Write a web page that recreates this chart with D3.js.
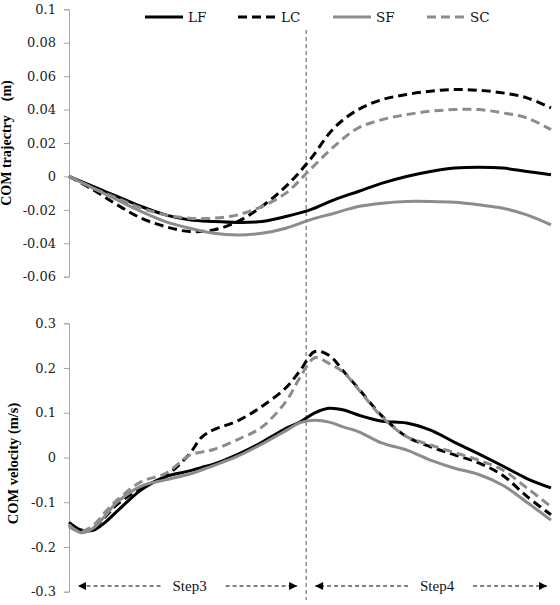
<!DOCTYPE html>
<html>
<head>
<meta charset="utf-8">
<script src="https://cdn.jsdelivr.net/npm/d3@7"></script>
<style>
  html, body { margin: 0; padding: 0; background: #fff; }
  svg { display: block; }
</style>
</head>
<body>
<svg id="chart"></svg>
<script>
// percent of the stride (step3 + step4)
var timeTop = [0, 5, 10, 15, 20, 25, 30, 35, 40, 45, 50, 55, 60, 65, 70, 75, 80, 85, 90, 95, 100];
var trajLF = [0, -0.006, -0.012, -0.018, -0.023, -0.026, -0.027, -0.0275, -0.027, -0.024, -0.020, -0.014, -0.009, -0.004, 0.000, 0.003, 0.005, 0.0055, 0.005, 0.003, 0.001];
var trajLC = [0, -0.008, -0.017, -0.025, -0.030, -0.033, -0.032, -0.027, -0.018, -0.006, 0.010, 0.029, 0.040, 0.046, 0.049, 0.051, 0.052, 0.0515, 0.050, 0.047, 0.041];
var trajSF = [0, -0.007, -0.014, -0.021, -0.027, -0.031, -0.034, -0.035, -0.034, -0.031, -0.026, -0.022, -0.018, -0.016, -0.015, -0.015, -0.0155, -0.017, -0.019, -0.023, -0.029];
var trajSC = [0, -0.007, -0.013, -0.019, -0.023, -0.025, -0.025, -0.023, -0.018, -0.010, 0.004, 0.018, 0.029, 0.034, 0.037, 0.039, 0.040, 0.040, 0.038, 0.035, 0.028];

var timeBottom = [0, 2.5, 5, 7.5, 10, 15, 20, 25, 27.5, 30, 35, 40, 45, 48, 51, 54, 57, 60, 65, 70, 75, 80, 85, 90, 95, 100];
var velLF = [-0.145, -0.162, -0.163, -0.145, -0.120, -0.072, -0.043, -0.030, -0.022, -0.015, 0.007, 0.034, 0.065, 0.080, 0.100, 0.110, 0.106, 0.095, 0.081, 0.077, 0.061, 0.034, 0.008, -0.019, -0.047, -0.068];
var velLC = [-0.150, -0.166, -0.158, -0.133, -0.105, -0.068, -0.042, 0.008, 0.045, 0.062, 0.082, 0.114, 0.156, 0.195, 0.237, 0.228, 0.192, 0.155, 0.092, 0.047, 0.024, 0.006, -0.012, -0.040, -0.087, -0.128];
var velSF = [-0.150, -0.168, -0.158, -0.130, -0.100, -0.064, -0.050, -0.037, -0.028, -0.018, 0.003, 0.030, 0.060, 0.078, 0.083, 0.079, 0.068, 0.058, 0.032, 0.017, -0.006, -0.024, -0.038, -0.062, -0.100, -0.140];
var velSC = [-0.155, -0.165, -0.152, -0.122, -0.095, -0.054, -0.036, 0.005, 0.012, 0.018, 0.040, 0.068, 0.125, 0.180, 0.223, 0.210, 0.190, 0.153, 0.090, 0.047, 0.028, 0.011, -0.006, -0.028, -0.068, -0.110];

var seriesNames = ["LF", "LC", "SF", "SC"];
var trajTicks = [0.1, 0.08, 0.06, 0.04, 0.02, 0, -0.02, -0.04, -0.06];
var velTicks = [0.3, 0.2, 0.1, 0, -0.1, -0.2, -0.3];
var stepBoundary = 49.2;
var steps = ["Step3", "Step4"];

var W = 560, H = 605;
var styles = {
  LF: { color: "#000", dash: null },
  LC: { color: "#000", dash: "9,5" },
  SF: { color: "#8c8c8c", dash: null },
  SC: { color: "#8c8c8c", dash: "9,5" }
};

var svg = d3.select("#chart").attr("width", W).attr("height", H);

var x = d3.scaleLinear().domain([0, 100]).range([69, 551]);
var yTop = d3.scaleLinear().domain([-0.06, 0.1]).range([276.7, 9.3]);
var yBot = d3.scaleLinear().domain([-0.3, 0.3]).range([591.7, 323.3]);

function drawAxis(scale, ticks, fmt) {
  var g = svg.append("g")
    .attr("transform", "translate(69,0)")
    .call(d3.axisLeft(scale).tickValues(ticks).tickSize(5).tickPadding(8).tickFormat(fmt))
    .attr("font-family", "'DejaVu Serif', serif")
    .attr("font-size", 13);
  g.select(".domain").attr("stroke", "#a6a6a6");
  g.selectAll(".tick line").attr("stroke", "#a6a6a6");
  g.selectAll(".tick text").attr("fill", "#222");
  return g;
}

function fmtTick(d) {
  return d === 0 ? "0" : String(d);
}

drawAxis(yTop, trajTicks, fmtTick);
drawAxis(yBot, velTicks, fmtTick);

// axis titles
svg.append("text")
  .attr("transform", "translate(11," + ((9.3 + 276.7) / 2) + ") rotate(-90)")
  .attr("text-anchor", "middle")
  .style("font-family", "'Liberation Serif', serif")
  .style("font-weight", "bold")
  .style("font-size", "14px")
  .text("COM trajectry\u3000(m)");

svg.append("text")
  .attr("transform", "translate(18," + ((323.3 + 591.7) / 2 + 6) + ") rotate(-90)")
  .attr("text-anchor", "middle")
  .style("font-family", "'Liberation Serif', serif")
  .style("font-weight", "bold")
  .style("font-size", "14.5px")
  .text("COM velocity (m/s)");

// step boundary
svg.append("line")
  .attr("x1", x(stepBoundary)).attr("x2", x(stepBoundary))
  .attr("y1", 30).attr("y2", 600)
  .attr("stroke", "#555").attr("stroke-width", 1)
  .attr("stroke-dasharray", "4,3");

function drawLines(times, table, yScale) {
  seriesNames.forEach(function (name) {
    var vals = table[name];
    var line = d3.line()
      .x(function (d, i) { return x(times[i]); })
      .y(function (d) { return yScale(d); })
      .curve(d3.curveCatmullRom.alpha(0.5));
    svg.append("path")
      .datum(vals)
      .attr("fill", "none")
      .attr("stroke", styles[name].color)
      .attr("stroke-width", 3)
      .attr("stroke-dasharray", styles[name].dash)
      .attr("d", line);
  });
}

drawLines(timeTop, { LF: trajLF, LC: trajLC, SF: trajSF, SC: trajSC }, yTop);
drawLines(timeBottom, { LF: velLF, LC: velLC, SF: velSF, SC: velSC }, yBot);

// legend
var legendX = [145, 238, 333, 427];
var leg = svg.append("g");
seriesNames.forEach(function (name, i) {
  leg.append("line")
    .attr("x1", legendX[i]).attr("x2", legendX[i] + 38)
    .attr("y1", 17).attr("y2", 17)
    .attr("stroke", styles[name].color)
    .attr("stroke-width", 3)
    .attr("stroke-dasharray", styles[name].dash ? "9,5" : null);
  leg.append("text")
    .attr("x", legendX[i] + 43).attr("y", 22)
    .style("font-family", "'DejaVu Serif', serif")
    .style("font-size", "13.5px")
    .attr("fill", "#111")
    .text(name);
});

// step arrows
var defs = svg.append("defs");
defs.append("marker")
  .attr("id", "arrow")
  .attr("viewBox", "0 0 10 10")
  .attr("refX", 10).attr("refY", 5)
  .attr("markerWidth", 10).attr("markerHeight", 8)
  .attr("markerUnits", "userSpaceOnUse")
  .attr("orient", "auto")
  .append("path").attr("d", "M0,0L10,5L0,10Z").attr("fill", "#000");

var stepRanges = [[0, stepBoundary], [stepBoundary, 100]];
var arrowY = 586;
steps.forEach(function (label, i) {
  var left = x(stepRanges[i][0]) + 9;
  var right = x(stepRanges[i][1]) - (i === 1 ? 4 : 9);
  var mid = (left + right) / 2 + (i === 1 ? 6 : 2);
  svg.append("line")
    .attr("x1", mid - 29).attr("x2", left)
    .attr("y1", arrowY).attr("y2", arrowY)
    .attr("stroke", "#000").attr("stroke-width", 1.2)
    .attr("stroke-dasharray", "4,3")
    .attr("marker-end", "url(#arrow)");
  svg.append("line")
    .attr("x1", mid + 36).attr("x2", right)
    .attr("y1", arrowY).attr("y2", arrowY)
    .attr("stroke", "#000").attr("stroke-width", 1.2)
    .attr("stroke-dasharray", "4,3")
    .attr("marker-end", "url(#arrow)");
  svg.append("text")
    .attr("x", mid).attr("y", arrowY + 5)
    .attr("text-anchor", "middle")
    .style("font-family", "'Liberation Serif', serif")
    .style("font-size", "15px")
    .attr("fill", "#111")
    .text(label);
});
</script>
</body>
</html>
